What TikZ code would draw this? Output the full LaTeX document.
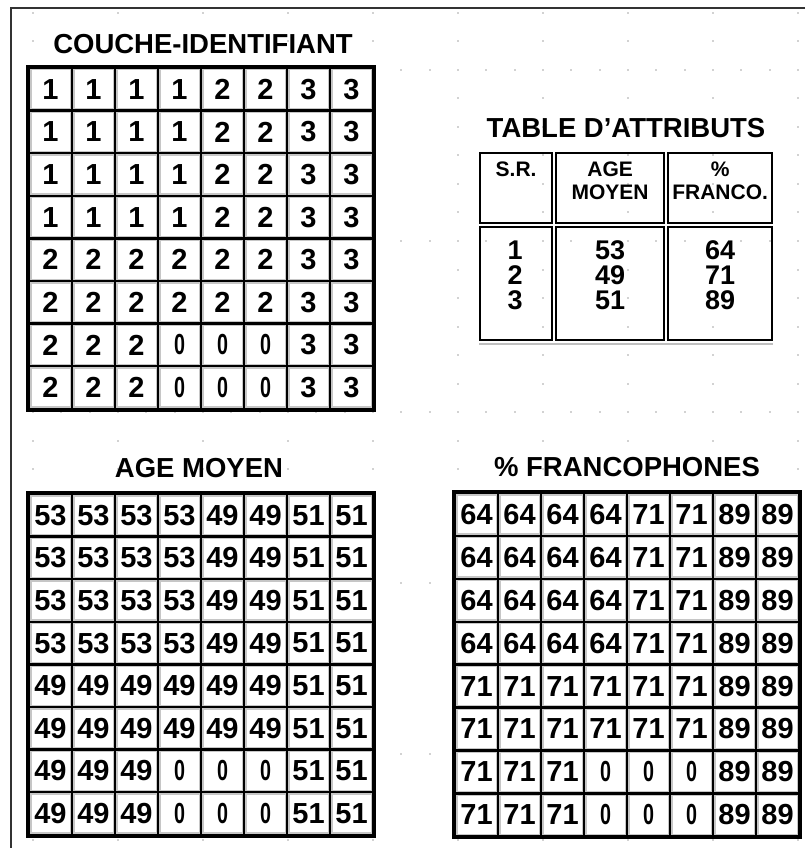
\documentclass[tikz,border=0pt]{standalone}
\usepackage{fontspec}
\setmainfont{Liberation Sans}
\usepackage{graphicx}
\usetikzlibrary{positioning}

% narrow zero as printed in the maps
\newcommand{\cellnum}[1]{\ifnum#1=0 \scalebox{0.68}[1]{0}\else#1\fi}

\begin{document}
\begin{tikzpicture}[
    x=1pt, y=-1pt,
    title/.style={font=\fontsize{27.5}{30}\selectfont\bfseries},
    cellbox/.style={rectangle, draw, line width=2.4pt, fill=white, minimum width=43pt, minimum height=42.6pt, inner sep=0pt,
        font=\fontsize{29}{30}\selectfont\bfseries,
        path picture={\draw[gray!45, line width=5pt] (path picture bounding box.north west) rectangle (path picture bounding box.south east);}},
    gridframe/.style={draw, line width=3.6pt},
    tabbox/.style={rectangle, draw, line width=2.2pt, inner sep=0pt, anchor=north west},
    tabhead/.style={font=\fontsize{21}{23}\selectfont\bfseries, align=center},
    tabbody/.style={font=\fontsize{27}{27}\selectfont\bfseries, inner sep=0pt},
    dot/.style={fill=gray!35},
    framepen/.style={draw=black!80, line width=2pt}
]
\useasboundingbox (0,0) rectangle (805,850);

% Background dots
\foreach \i in {0,...,9}
  \foreach \j in {0,...,29}
    \fill[dot] ({32+85*\i},{12+28.5*\j}) rectangle +(2,2);
\foreach \k in {0,...,4}
  \foreach \i in {0,...,27}
    \fill[dot] ({32+28.33*\i},{69+171*\k}) rectangle +(2,2);

% Frame
\coordinate (frameTL) at (11,8);
\coordinate (frameTR) at (805,8);
\coordinate (frameBL) at (11,848);
\draw[framepen] (frameTR) -- (frameTL) -- (frameBL);

% Titles
\node[title] (idTitle) at (203,44) {COUCHE-IDENTIFIANT};
\node[title] (tabTitle) at (626,128) {TABLE D'ATTRIBUTS};
\node[title] (ageTitle) at (199,468) {AGE MOYEN};
\node[title] (frTitle) at (627,467) {\% FRANCOPHONES};

% Identifier layer
\foreach \row [count=\r] in {{1,1,1,1,2,2,3,3},{1,1,1,1,2,2,3,3},{1,1,1,1,2,2,3,3},{1,1,1,1,2,2,3,3},
                             {2,2,2,2,2,2,3,3},{2,2,2,2,2,2,3,3},{2,2,2,0,0,0,3,3},{2,2,2,0,0,0,3,3}}
  \foreach \v [count=\c] in \row
    \node[cellbox] (id-\r-\c) at ({29+43*\c-21.5},{68+42.6*\r-21.3}) {\cellnum{\v}};
\draw[gridframe] (id-1-1.north west) rectangle (id-8-8.south east);

% Mean age layer
\foreach \row [count=\r] in {{53,53,53,53,49,49,51,51},{53,53,53,53,49,49,51,51},{53,53,53,53,49,49,51,51},{53,53,53,53,49,49,51,51},
                             {49,49,49,49,49,49,51,51},{49,49,49,49,49,49,51,51},{49,49,49,0,0,0,51,51},{49,49,49,0,0,0,51,51}}
  \foreach \v [count=\c] in \row
    \node[cellbox] (age-\r-\c) at ({29+43*\c-21.5},{494+42.6*\r-21.3}) {\cellnum{\v}};
\draw[gridframe] (age-1-1.north west) rectangle (age-8-8.south east);

% Francophone layer
\foreach \row [count=\r] in {{64,64,64,64,71,71,89,89},{64,64,64,64,71,71,89,89},{64,64,64,64,71,71,89,89},{64,64,64,64,71,71,89,89},
                             {71,71,71,71,71,71,89,89},{71,71,71,71,71,71,89,89},{71,71,71,0,0,0,89,89},{71,71,71,0,0,0,89,89}}
  \foreach \v [count=\c] in \row
    \node[cellbox, minimum height=42.9pt] (fr-\r-\c) at ({455+43*\c-21.5},{493+42.9*\r-21.45}) {\cellnum{\v}};
\draw[gridframe] (fr-1-1.north west) rectangle (fr-8-8.south east);

% Attribute table
\node[tabbox, minimum width=72pt, minimum height=70pt] (srHead) at (479,152) {};
\node[tabbox, minimum width=108pt, minimum height=70pt] (ageHead) at (555,152) {};
\node[tabbox, minimum width=104pt, minimum height=70pt] (frHead) at (667,152) {};
\node[tabbox, minimum width=72pt, minimum height=113pt] (srBody) at (479,226) {};
\node[tabbox, minimum width=108pt, minimum height=113pt] (ageBody) at (555,226) {};
\node[tabbox, minimum width=104pt, minimum height=113pt] (frBody) at (667,226) {};
\draw[gray!50, line width=2pt] ([yshift=-2.6pt]srBody.south west) -- ([yshift=-2.6pt]frBody.south east);

\node[tabhead, below=6pt of srHead.north] (srText) {S.R.};
\node[tabhead, below=6pt of ageHead.north] (ageText) {AGE\\MOYEN};
\node[tabhead, below=6pt of frHead.north] (frText) {\%\\FRANCO.};
\foreach \sr/\age/\fr [count=\n] in {1/53/64, 2/49/71, 3/51/89} {
  \node[tabbody] (srVal-\n) at ({515},{225+25*\n}) {\sr};
  \node[tabbody] (ageVal-\n) at (ageBody.center |- srVal-\n) {\age};
  \node[tabbody] (frVal-\n) at (frBody.center |- srVal-\n) {\fr};
}

\end{tikzpicture}
\end{document}
